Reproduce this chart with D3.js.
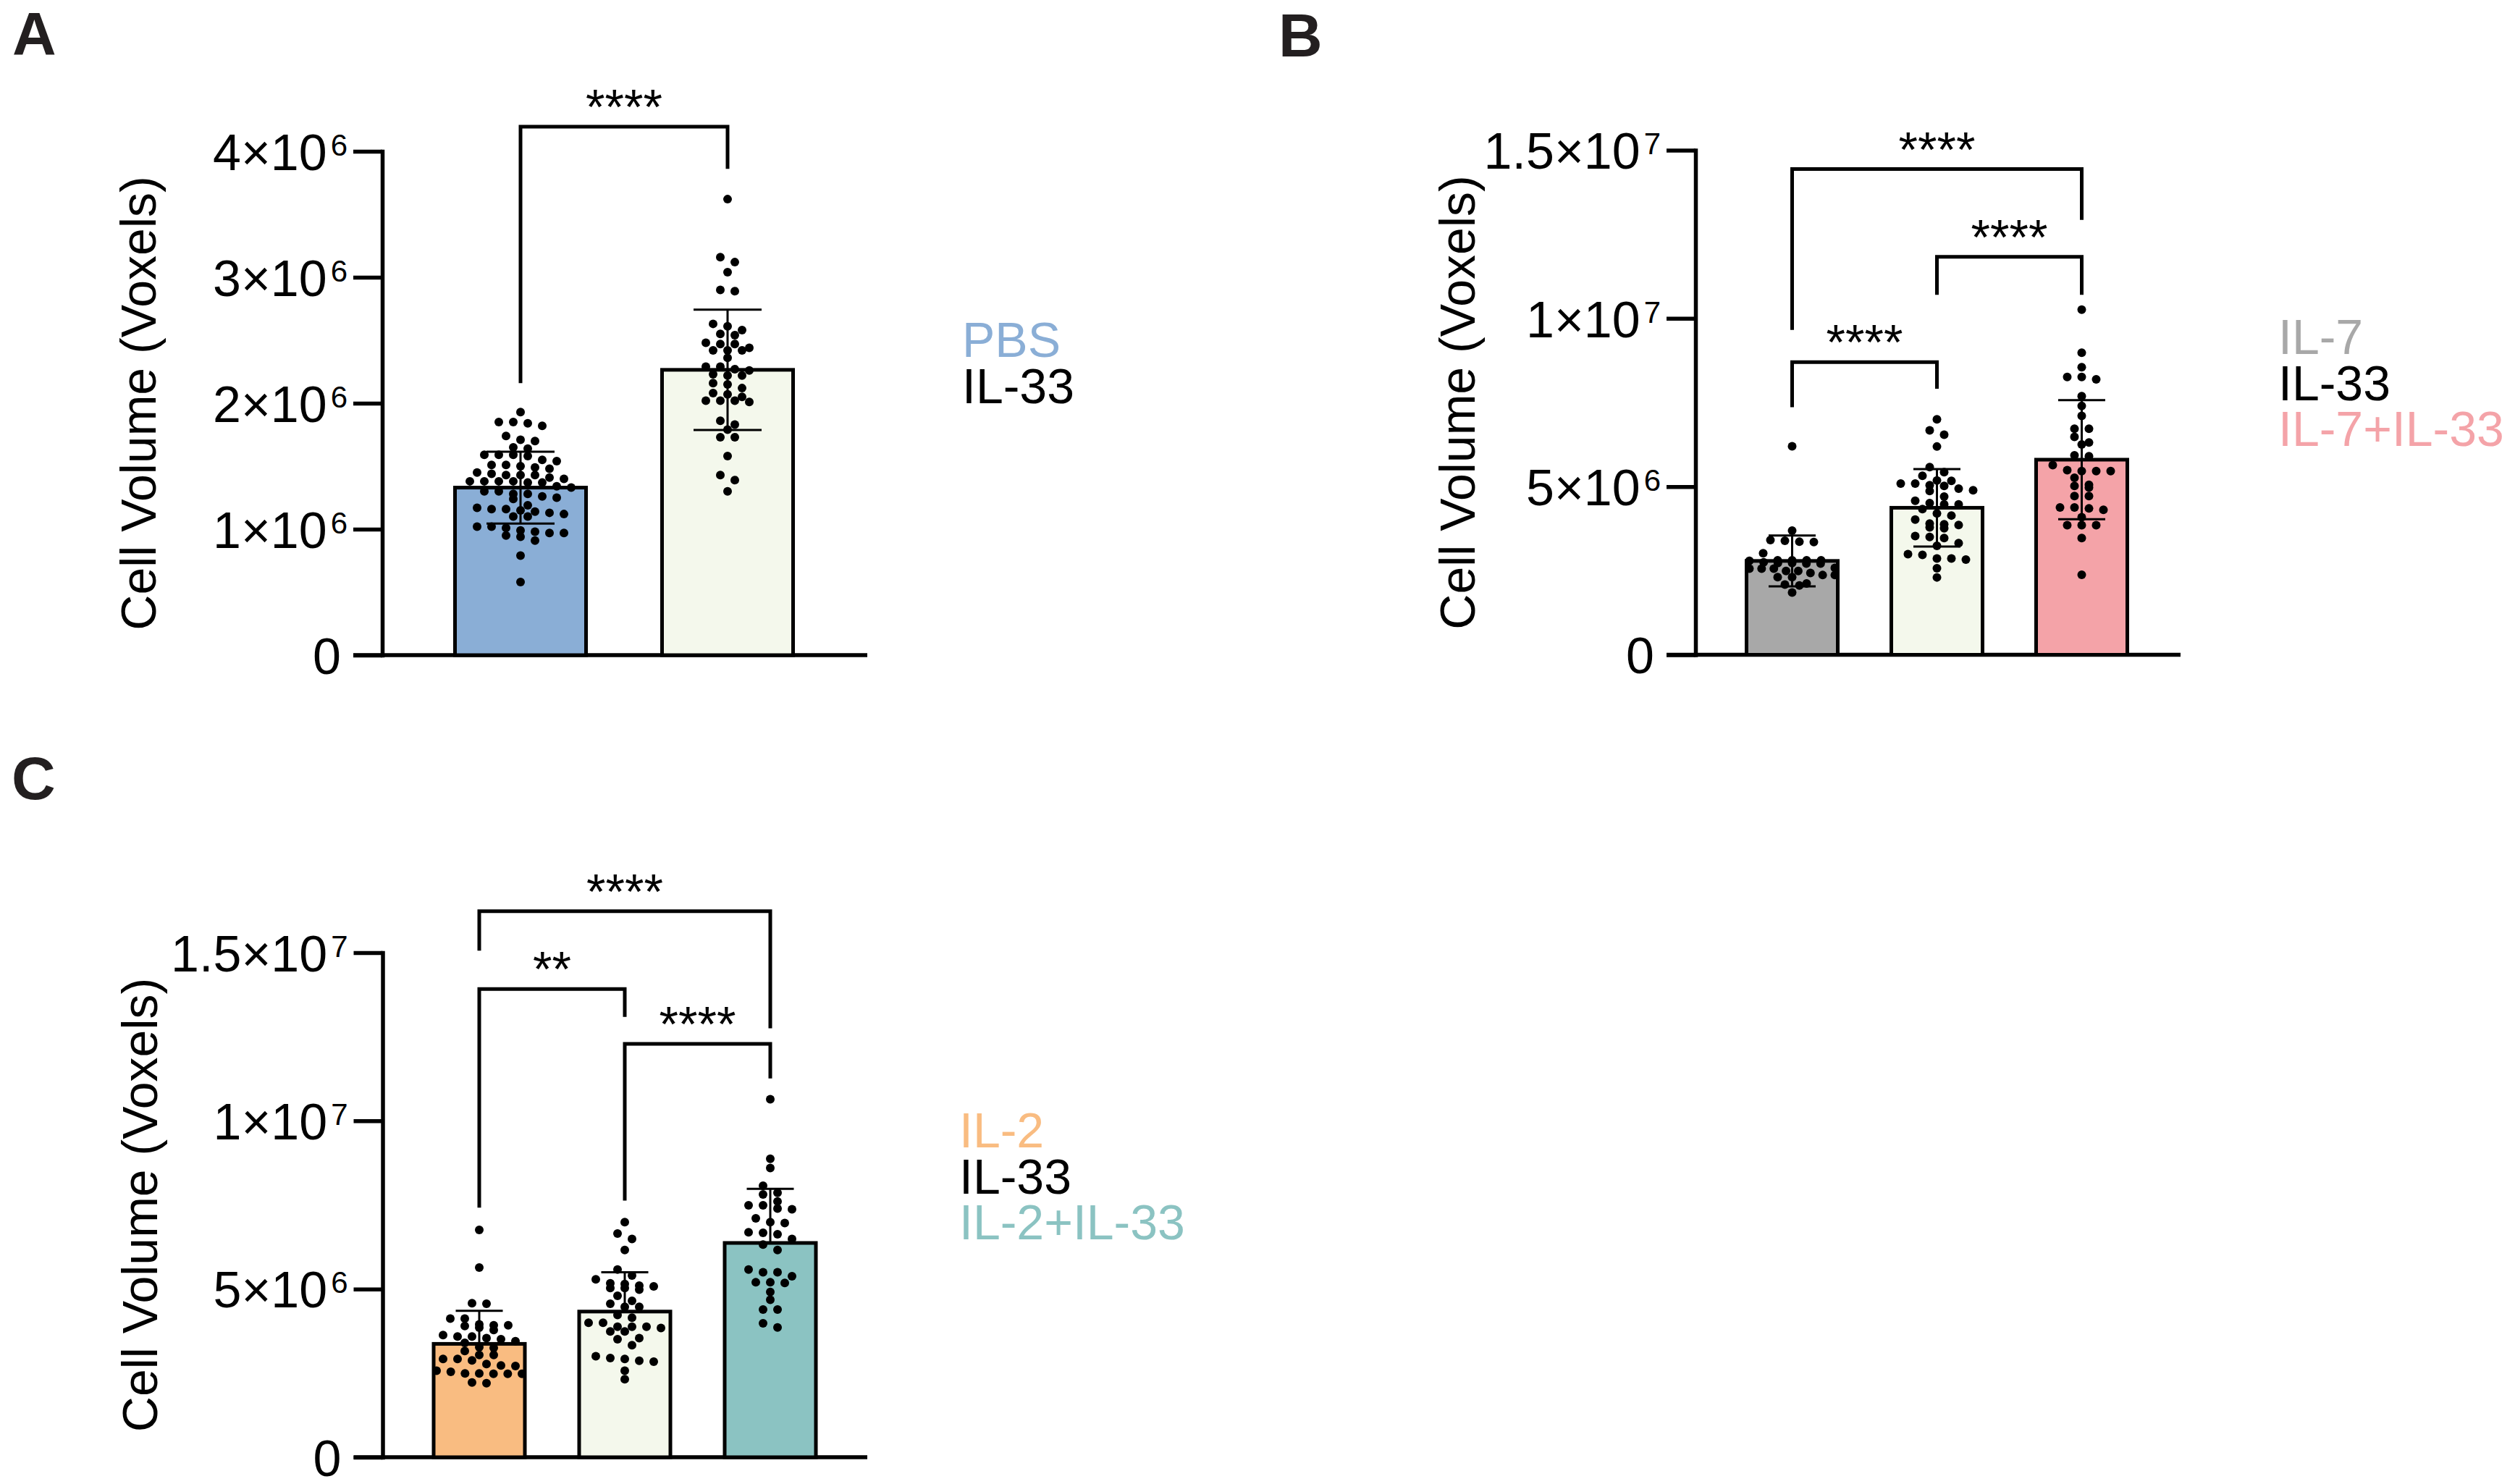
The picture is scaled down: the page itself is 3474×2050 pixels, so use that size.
<!DOCTYPE html>
<html>
<head>
<meta charset="utf-8">
<script src="https://cdn.jsdelivr.net/npm/d3@7"></script>
<style>
    html, body { margin: 0; padding: 0; background: #fff; }
    svg { display: block; font-family: "Liberation Sans", Arial, sans-serif; }
</style>
</head>
<body>
<svg id="chart" width="3474" height="2050"></svg>
<script>
// all values are in units of 1e6 voxels
var M = 1e6;

// ---- panel A ----
var groupsA = ['PBS', 'IL-33'];
var colorsA = ['#8aaed6', '#f4f8ec'];
var legendColorsA = ['#8aaed6', '#000000'];
var meanA = [1.33, 2.265];
var sdA = [0.285, 0.478];
var ticksA = [0, 1, 2, 3, 4];
var pbsA = [1.93, 1.85, 1.82, 1.84, 1.85, 1.74, 1.70, 1.71, 1.64, 1.65, 1.59, 1.59, 1.58, 1.59,
    1.54, 1.55, 1.51, 1.50, 1.49, 1.51, 1.48, 1.43, 1.43, 1.43, 1.44, 1.45, 1.40, 1.37, 1.38,
    1.37, 1.38, 1.41, 1.38, 1.38, 1.34, 1.33, 1.30, 1.30, 1.28, 1.28, 1.26, 1.24, 1.25, 1.19,
    1.14, 1.17, 1.15, 1.16, 1.16, 1.13, 1.12, 1.10, 1.10, 0.98, 0.99, 1.02, 0.97, 1.01, 0.97,
    1.02, 0.94, 0.91, 0.95, 0.79, 0.58];
var il33A = [3.62, 3.16, 3.12, 3.04, 2.89, 2.90, 2.61, 2.63, 2.55, 2.58, 2.54, 2.47, 2.48, 2.47,
    2.42, 2.42, 2.42, 2.44, 2.36, 2.29, 2.27, 2.29, 2.26, 2.22, 2.23, 2.22, 2.16, 2.15, 2.12,
    2.08, 2.07, 2.05, 2.01, 2.02, 2.02, 2.02, 1.86, 1.83, 1.79, 1.73, 1.73, 1.58, 1.43, 1.39, 1.30];
var bracketsA = [
    { a: 0, b: 1, top: 4.195, left: 2.16, right: 3.86, label: '****' }
];

// ---- panel B ----
var groupsB = ['IL-7', 'IL-33', 'IL-7+IL-33'];
var colorsB = ['#a8a8a8', '#f4f8ec', '#f4a3a8'];
var legendColorsB = ['#a8a8a8', '#000000', '#f4a3a8'];
var meanB = [2.79, 4.37, 5.80];
var sdB = [0.755, 1.15, 1.77];
var ticksB = [0, 5, 10, 15];
var il7B = [6.20, 3.69, 3.39, 3.35, 3.41, 3.36, 3.02, 2.81, 2.81, 2.81, 2.79, 2.81, 2.73, 2.71,
    2.73, 2.75, 2.71, 2.43, 2.37, 2.56, 2.49, 2.56, 2.49, 2.56, 2.58, 2.31, 2.31, 2.37, 2.12,
    2.06, 2.09, 1.85];
var il33B = [7.00, 6.67, 6.54, 6.19, 5.58, 5.43, 5.18, 5.04, 5.09, 5.32, 5.09, 5.02, 5.17, 4.87,
    4.94, 4.89, 4.70, 4.51, 4.47, 4.58, 4.47, 4.33, 4.14, 4.02, 4.20, 3.86, 3.79, 3.76, 3.88,
    3.90, 3.53, 3.50, 3.47, 3.32, 3.24, 2.99, 2.86, 2.86, 2.83, 2.97, 2.57, 2.30];
var comboB = [10.26, 8.98, 8.55, 8.26, 8.19, 8.26, 7.69, 7.40, 7.10, 6.72, 6.72, 6.48, 6.31, 6.25,
    5.90, 5.93, 5.64, 5.46, 5.46, 5.46, 5.49, 5.26, 4.97, 5.05, 5.02, 4.72, 4.72, 4.38, 4.38,
    4.31, 4.35, 4.09, 3.85, 3.85, 3.85, 3.47, 2.38];
var bracketsB = [
    { a: 0, b: 1, top: 8.70, left: 7.36, right: 7.91, label: '****' },
    { a: 1, b: 2, top: 11.83, left: 10.70, right: 10.70, label: '****' },
    { a: 0, b: 2, top: 14.44, left: 9.66, right: 12.93, label: '****' }
];

// ---- panel C ----
var groupsC = ['IL-2', 'IL-33', 'IL-2+IL-33'];
var colorsC = ['#f9bc81', '#f4f8ec', '#8bc3c2'];
var legendColorsC = ['#f9bc81', '#000000', '#8bc3c2'];
var meanC = [3.37, 4.33, 6.37];
var sdC = [0.98, 1.17, 1.61];
var ticksC = [0, 5, 10, 15];
var il2C = [6.76, 5.64, 4.56, 4.58, 4.12, 4.12, 3.95, 3.92, 3.78, 3.92, 3.85, 3.90, 3.59, 3.54,
    3.59, 3.63, 3.51, 3.45, 3.40, 3.16, 3.25, 3.27, 3.04, 2.92, 3.04, 2.92, 2.77, 2.88, 2.73,
    2.71, 2.49, 2.57, 2.48, 2.54, 2.48, 2.49, 2.48, 2.20, 2.22];
var il33C = [6.99, 6.65, 6.49, 6.16, 5.58, 5.17, 5.03, 5.08, 5.29, 5.40, 5.03, 5.15, 4.80, 4.98,
    5.10, 4.47, 4.47, 4.65, 4.56, 4.15, 4.23, 3.84, 3.88, 4.00, 4.00, 3.88, 3.88, 3.74, 3.74,
    3.54, 3.51, 3.33, 3.00, 2.87, 2.92, 2.84, 2.95, 2.57, 2.32];
var comboC = [10.64, 8.87, 8.60, 8.07, 7.86, 7.81, 7.60, 7.39, 7.49, 7.49, 7.37, 7.10, 6.99, 6.96,
    6.63, 6.67, 6.69, 6.49, 6.32, 6.16, 5.58, 5.50, 5.50, 5.38, 5.20, 5.20, 5.18, 4.91, 4.68,
    4.39, 4.39, 3.86, 3.98];
var bracketsC = [
    { a: 0, b: 1, top: 13.92, left: 7.42, right: 13.09, label: '**' },
    { a: 1, b: 2, top: 12.29, left: 7.63, right: 11.26, label: '****' },
    { a: 0, b: 2, top: 16.23, left: 15.06, right: 12.75, label: '****' }
];

var yLabel = 'Cell Volume (Voxels)';

// layout of the three panels (pixels)
var panels = [
    {
        letter: 'A', letterX: 17, letterY: 76,
        groups: groupsA, colors: colorsA, legendColors: legendColorsA,
        mean: meanA, sd: sdA, points: [pbsA, il33A], ticks: ticksA, brackets: bracketsA,
        axisX: 528, y0: 905, yTop: 209, xEnd: 1198, domainMax: 4,
        centers: [719, 1005], barW: 181, capW: 94, errorBehind: false,
        labelX: 215, legendX: 1329, legendY: 493
    },
    {
        letter: 'B', letterX: 1766, letterY: 78,
        groups: groupsB, colors: colorsB, legendColors: legendColorsB,
        mean: meanB, sd: sdB, points: [il7B, il33B, comboB], ticks: ticksB, brackets: bracketsB,
        axisX: 2342, y0: 904.5, yTop: 207.5, xEnd: 3012, domainMax: 15,
        centers: [2475.5, 2875.5], barW: 126, capW: 65, errorBehind: false,
        labelX: 2037, legendX: 3147, legendY: 489
    },
    {
        letter: 'C', letterX: 16, letterY: 1104,
        groups: groupsC, colors: colorsC, legendColors: legendColorsC,
        mean: meanC, sd: sdC, points: [il2C, il33C, comboC], ticks: ticksC, brackets: bracketsC,
        axisX: 528.5, y0: 2013, yTop: 1316, xEnd: 1198, domainMax: 15,
        centers: [662, 1064], barW: 126, capW: 65, errorBehind: true,
        labelX: 217, legendX: 1325, legendY: 1585
    }
];

var svg = d3.select('#chart');

var AXIS_W = 5.5,
    BAR_W = 5,
    ERR_W = 3,
    TICK = 40,
    DOT_R = 6,
    DOT_STEP = 20,
    ROW_GAP = 10,
    LEGEND_STEP = 63.5;


// Prism-like scatter: group close values into rows, spread rows symmetrically
function scatterLayout(values, y, cx, maxSpan) {
    var sorted = values.slice().sort(d3.descending);
    var rows = [], row = null;

    sorted.forEach(function(v) {
        var py = y(v * M);
        if (!row || py - row.y > ROW_GAP) {
            row = { y: py, pts: [] };
            rows.push(row);
        }
        row.pts.push(py);
    });

    var out = [];
    rows.forEach(function(r) {
        var n = r.pts.length;
        var step = n > 1 ? Math.min(DOT_STEP, maxSpan / (n - 1)) : 0;
        r.pts.forEach(function(py, i) {
            out.push({ x: cx + (i - (n - 1) / 2) * step, y: py });
        });
    });
    return out;
}


function tickLabel(text, d) {
    text.text(null);
    if (d === 0) {
        text.attr('dx', -9).text('0');
        return;
    }
    var exp = Math.floor(Math.log10(d));
    var mant = d / Math.pow(10, exp);
    text.append('tspan').text(mant + '\u00d710');
    text.append('tspan')
        .attr('font-size', 42)
        .attr('dx', 5)
        .attr('dy', -20)
        .text(exp);
}


function drawPanel(p) {
    var g = svg.append('g');

    var y = d3.scaleLinear()
        .domain([0, p.domainMax * M])
        .range([p.y0, p.yTop]);

    var x = d3.scalePoint()
        .domain(p.groups)
        .range(p.centers);

    // panel letter
    g.append('text')
        .attr('x', p.letterX)
        .attr('y', p.letterY)
        .attr('font-size', 84)
        .attr('font-weight', 'bold')
        .attr('fill', '#231f20')
        .text(p.letter);

    // y axis
    var axis = g.append('g')
        .attr('transform', 'translate(' + p.axisX + ',0)')
        .call(d3.axisLeft(y)
            .tickValues(p.ticks.map(function(t) { return t * M; }))
            .tickSize(TICK)
            .tickSizeOuter(0)
            .tickPadding(8));

    axis.attr('font-family', null).attr('font-size', 70);
    axis.select('.domain')
        .attr('stroke', '#000')
        .attr('stroke-width', AXIS_W)
        .attr('stroke-linecap', 'square');
    axis.selectAll('.tick line')
        .attr('stroke', '#000')
        .attr('stroke-width', AXIS_W);
    axis.selectAll('.tick text')
        .attr('fill', '#000')
        .attr('dy', '0.36em')
        .each(function(d) { tickLabel(d3.select(this), d); });

    // x axis baseline
    g.append('line')
        .attr('x1', p.axisX - TICK)
        .attr('x2', p.xEnd)
        .attr('y1', y(0))
        .attr('y2', y(0))
        .attr('stroke', '#000')
        .attr('stroke-width', AXIS_W);

    // axis title
    g.append('text')
        .attr('transform', 'translate(' + p.labelX + ',' + ((p.y0 + p.yTop) / 2) + ') rotate(-90)')
        .attr('text-anchor', 'middle')
        .attr('font-size', 68)
        .text(yLabel);

    var stats = p.groups.map(function(name, i) {
        return { name: name, mean: p.mean[i] * M, sd: p.sd[i] * M, color: p.colors[i] };
    });

    function drawErrors(full) {
        var e = g.append('g')
            .attr('stroke', '#000')
            .attr('stroke-width', ERR_W)
            .attr('fill', 'none');

        e.selectAll('path')
            .data(stats)
            .enter()
            .append('path')
            .attr('d', function(d) {
                var cx = x(d.name),
                    hi = y(d.mean + d.sd),
                    lo = full ? y(d.mean - d.sd) : y(d.mean),
                    h = p.capW / 2;
                var s = 'M' + cx + ',' + lo + 'V' + hi +
                    'M' + (cx - h) + ',' + hi + 'H' + (cx + h);
                if (full) s += 'M' + (cx - h) + ',' + lo + 'H' + (cx + h);
                return s;
            });
    }

    if (p.errorBehind) drawErrors(false);

    // bars
    g.append('g')
        .selectAll('rect')
        .data(stats)
        .enter()
        .append('rect')
        .attr('x', function(d) { return x(d.name) - p.barW / 2; })
        .attr('y', function(d) { return y(d.mean); })
        .attr('width', p.barW)
        .attr('height', function(d) { return y(0) - y(d.mean); })
        .attr('fill', function(d) { return d.color; })
        .attr('stroke', '#000')
        .attr('stroke-width', BAR_W);

    if (!p.errorBehind) drawErrors(true);

    // individual cells
    p.groups.forEach(function(name, i) {
        var pts = scatterLayout(p.points[i], y, x(name), p.barW - 8);
        g.append('g')
            .selectAll('circle')
            .data(pts)
            .enter()
            .append('circle')
            .attr('cx', function(d) { return d.x; })
            .attr('cy', function(d) { return d.y; })
            .attr('r', DOT_R)
            .attr('fill', '#000');
    });

    // significance brackets
    var br = g.append('g');
    br.selectAll('path')
        .data(p.brackets)
        .enter()
        .append('path')
        .attr('d', function(d) {
            var x1 = x(p.groups[d.a]),
                x2 = x(p.groups[d.b]);
            return 'M' + x1 + ',' + y(d.left * M) +
                'V' + y(d.top * M) +
                'H' + x2 +
                'V' + y(d.right * M);
        })
        .attr('fill', 'none')
        .attr('stroke', '#000')
        .attr('stroke-width', BAR_W);

    br.selectAll('text')
        .data(p.brackets)
        .enter()
        .append('text')
        .attr('x', function(d) { return (x(p.groups[d.a]) + x(p.groups[d.b])) / 2; })
        .attr('y', function(d) { return y(d.top * M) - 4; })
        .attr('text-anchor', 'middle')
        .attr('font-size', 68)
        .text(function(d) { return d.label; });

    // legend
    g.append('g')
        .selectAll('text')
        .data(p.groups)
        .enter()
        .append('text')
        .attr('x', p.legendX)
        .attr('y', function(d, i) { return p.legendY + i * LEGEND_STEP; })
        .attr('font-size', 68)
        .attr('fill', function(d, i) { return p.legendColors[i]; })
        .text(function(d) { return d; });
}

panels.forEach(drawPanel);
</script>
</body>
</html>
